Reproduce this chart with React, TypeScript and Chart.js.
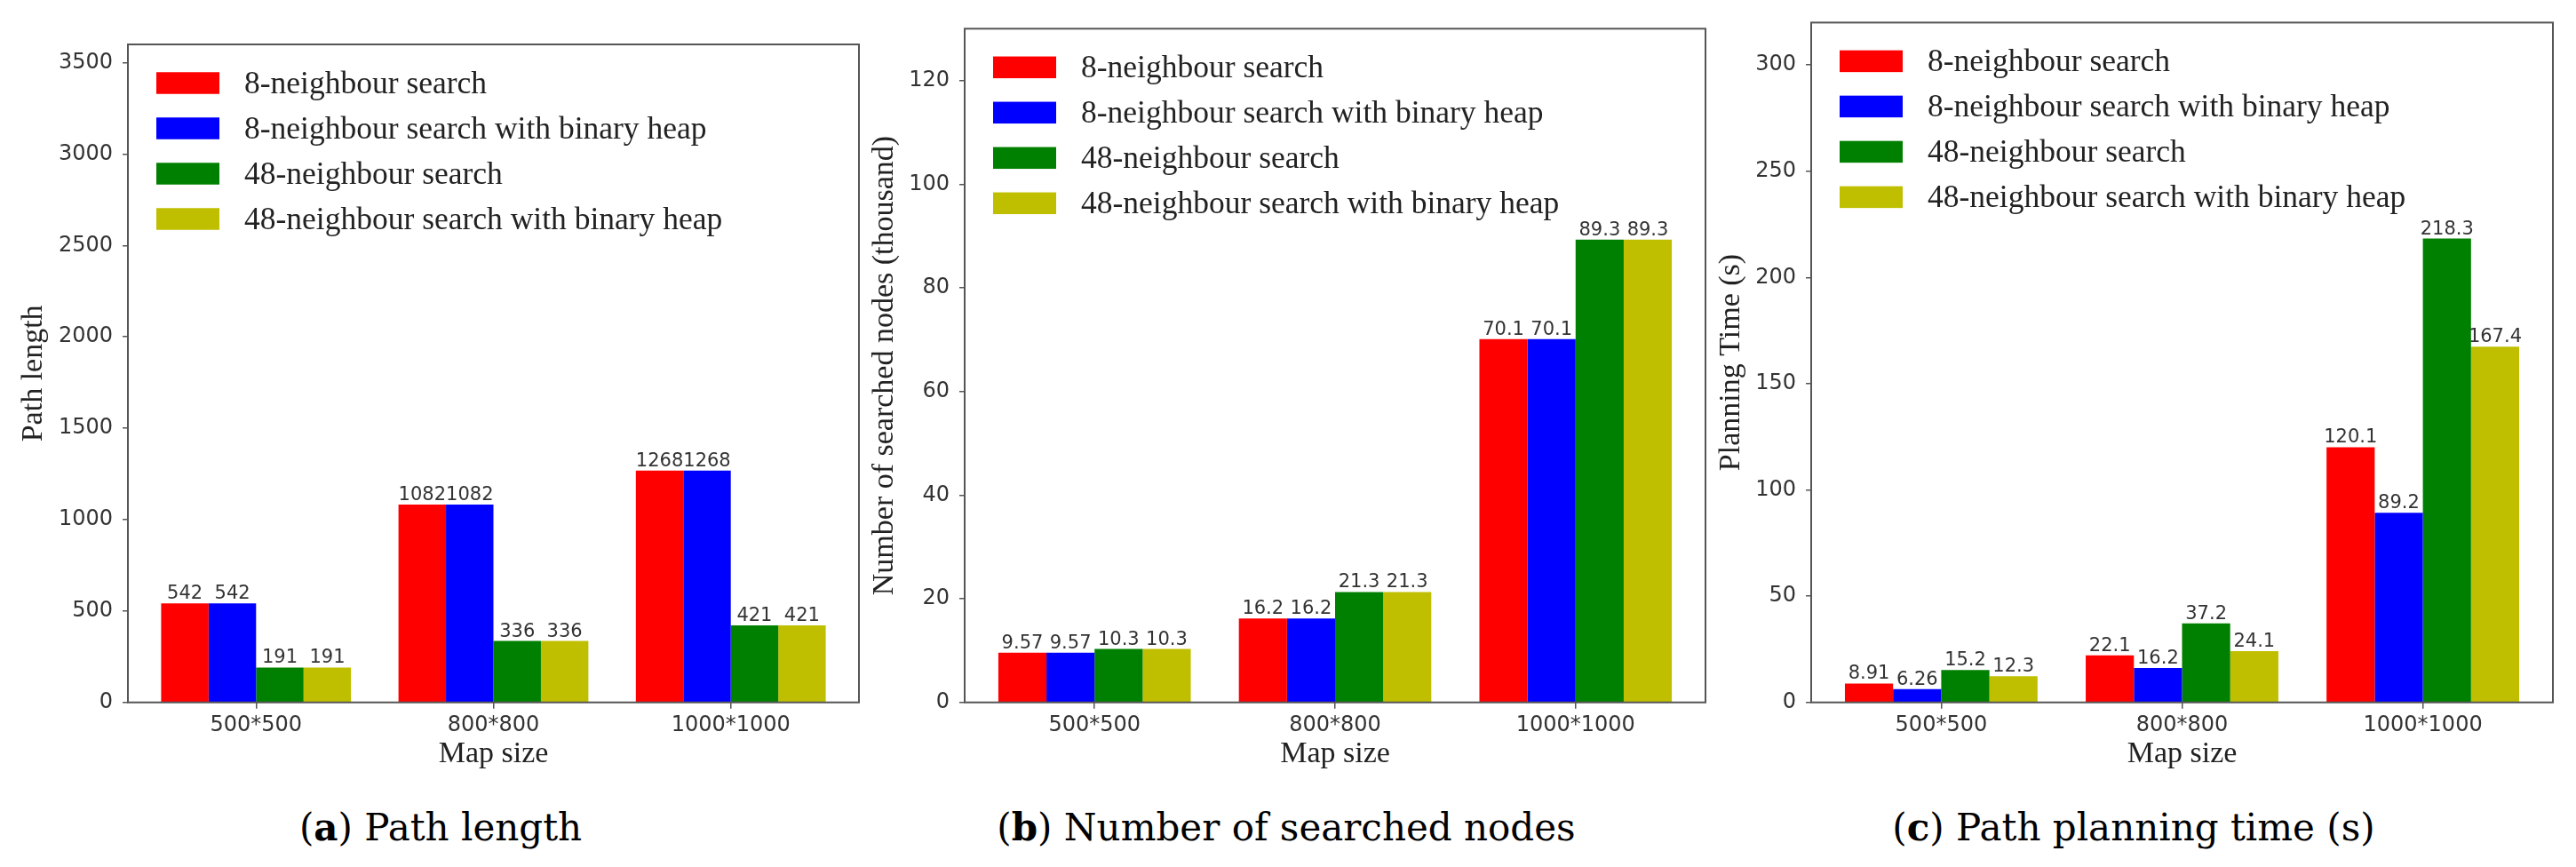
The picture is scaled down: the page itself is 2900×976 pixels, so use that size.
import React, { useEffect, useRef } from 'react';
import { Chart, registerables } from 'chart.js';

Chart.register(...registerables);

// ---------- data ----------
const categories = ['500*500', '800*800', '1000*1000'];
const seriesLabels = [
  '8-neighbour search',
  '8-neighbour search with binary heap',
  '48-neighbour search',
  '48-neighbour search with binary heap',
];
const seriesColors = ['#ff0000', '#0000ff', '#008000', '#bfbf00'];

const pathLength8 = [542, 1082, 1268];
const pathLength8Heap = [542, 1082, 1268];
const pathLength48 = [191, 336, 421];
const pathLength48Heap = [191, 336, 421];

const nodes8 = [9.57, 16.2, 70.1];
const nodes8Heap = [9.57, 16.2, 70.1];
const nodes48 = [10.3, 21.3, 89.3];
const nodes48Heap = [10.3, 21.3, 89.3];

const time8 = [8.91, 22.1, 120.1];
const time8Heap = [6.26, 16.2, 89.2];
const time48 = [15.2, 37.2, 218.3];
const time48Heap = [12.3, 24.1, 167.4];

const yTicksPath = [0, 500, 1000, 1500, 2000, 2500, 3000, 3500];
const yTicksNodes = [0, 20, 40, 60, 80, 100, 120];
const yTicksTime = [0, 50, 100, 150, 200, 250, 300];

const yTitles = ['Path length', 'Number of searched nodes (thousand)', 'Planning Time (s)'];
const xTitle = 'Map size';
const captionLetters = ['a', 'b', 'c'];
const captionTexts = ['Path length', 'Number of searched nodes', 'Path planning time (s)'];

// ---------- layout ----------
const CANVAS_H = 880;
const PLOT_BOTTOM = 790.7;
const SERIF = '"Liberation Serif", "Times New Roman", serif';
const SANS = '"DejaVu Sans", sans-serif';
const FRAME = '#555555';

type Spec = {
  series: number[][];
  yTitle: string;
  yTicks: number[];
  yMax: number;
  canvasLeft: number;
  plotLeft: number;
  plotRight: number;
  plotTop: number;
  yTitleX: number;
  captionX: number;
  letter: string;
  caption: string;
};

const specs: Spec[] = [
  {
    series: [pathLength8, pathLength8Heap, pathLength48, pathLength48Heap],
    yTitle: yTitles[0], yTicks: yTicksPath, yMax: 3600,
    canvasLeft: 0, plotLeft: 144, plotRight: 967, plotTop: 50, yTitleX: 38,
    captionX: 496, letter: captionLetters[0], caption: captionTexts[0],
  },
  {
    series: [nodes8, nodes8Heap, nodes48, nodes48Heap],
    yTitle: yTitles[1], yTicks: yTicksNodes, yMax: 130,
    canvasLeft: 940, plotLeft: 1086, plotRight: 1920, plotTop: 32.3, yTitleX: 996,
    captionX: 1448, letter: captionLetters[1], caption: captionTexts[1],
  },
  {
    series: [time8, time8Heap, time48, time48Heap],
    yTitle: yTitles[2], yTicks: yTicksTime, yMax: 320,
    canvasLeft: 1895, plotLeft: 2039, plotRight: 2874, plotTop: 21.7, yTitleX: 1949,
    captionX: 2402, letter: captionLetters[2], caption: captionTexts[2],
  },
];

// ---------- plugins ----------
const framePlugin = {
  id: 'frame',
  afterDatasetsDraw(chart: any) {
    const { ctx, chartArea: a } = chart;
    ctx.save();
    ctx.strokeStyle = FRAME;
    ctx.lineWidth = 2;
    ctx.strokeRect(a.left, a.top, a.right - a.left, a.bottom - a.top);
    ctx.restore();
  },
};

const valueLabelPlugin = {
  id: 'valueLabels',
  afterDatasetsDraw(chart: any) {
    const { ctx } = chart;
    ctx.save();
    ctx.font = `21px ${SANS}`;
    ctx.fillStyle = '#333333';
    ctx.textAlign = 'center';
    ctx.textBaseline = 'alphabetic';
    chart.data.datasets.forEach((ds: any, di: number) => {
      const meta = chart.getDatasetMeta(di);
      meta.data.forEach((el: any, i: number) => {
        const v = ds.data[i].y;
        ctx.fillText(String(v), el.x, el.y - 5);
      });
    });
    ctx.restore();
  },
};

const legendPlugin = {
  id: 'insideLegend',
  afterDraw(chart: any) {
    const { ctx, chartArea: a } = chart;
    ctx.save();
    ctx.font = `35.5px ${SERIF}`;
    ctx.textAlign = 'left';
    ctx.textBaseline = 'middle';
    chart.data.datasets.forEach((ds: any, i: number) => {
      const cy = a.top + 43.5 + i * 51;
      const bx = a.left + 32;
      ctx.fillStyle = ds.backgroundColor;
      ctx.fillRect(bx, cy - 12.25, 71, 24.5);
      ctx.fillStyle = '#222222';
      ctx.fillText(ds.label, bx + 99, cy + 2);
    });
    ctx.restore();
  },
};

function Panel({ spec }: { spec: Spec }) {
  const ref = useRef<HTMLCanvasElement>(null);
  const width = spec.plotRight + 8 - spec.canvasLeft;
  const yAxisWidth = spec.plotLeft - spec.canvasLeft;

  useEffect(() => {
    const canvas = ref.current!;
    const titleFontSize = 34;
    const titleLine = titleFontSize * 1.2;
    const chart = new Chart(canvas, {
      type: 'bar',
      data: {
        datasets: spec.series.map((vals, si) => ({
          label: seriesLabels[si],
          data: vals.map((v, i) => ({ x: i, y: v })),
          backgroundColor: seriesColors[si],
          borderWidth: 0,
          categoryPercentage: 0.8,
          barPercentage: 1.0,
        })),
      },
      options: {
        responsive: false,
        maintainAspectRatio: false,
        animation: false,
        devicePixelRatio: 1,
        layout: { padding: { top: spec.plotTop, right: 8, bottom: 0, left: 0 } },
        plugins: { legend: { display: false }, tooltip: { enabled: false } },
        scales: {
          x: {
            type: 'linear',
            min: -0.54,
            max: 2.54,
            offset: false,
            grid: { display: true, drawOnChartArea: false, offset: false, tickLength: 7, color: FRAME, lineWidth: 1.5 },
            border: { display: false },
            afterBuildTicks: (scale: any) => {
              scale.ticks = categories.map((_, i) => ({ value: i }));
            },
            afterFit: (scale: any) => {
              scale.height = CANVAS_H - PLOT_BOTTOM;
            },
            ticks: {
              autoSkip: false,
              maxRotation: 0,
              padding: 5,
              color: '#333333',
              font: { family: SANS, size: 24 },
              callback: (v: any) => categories[v] ?? '',
            },
            title: {
              display: true,
              text: xTitle,
              color: '#222222',
              font: { family: SERIF, size: titleFontSize, lineHeight: 1.2 },
              padding: { top: 0, bottom: CANVAS_H - 849 - titleLine / 2 },
            },
          },
          y: {
            type: 'linear',
            min: 0,
            max: spec.yMax,
            grid: { display: true, drawOnChartArea: false, tickLength: 6, color: FRAME, lineWidth: 1.5 },
            border: { display: false },
            afterBuildTicks: (scale: any) => {
              scale.ticks = spec.yTicks.map((v) => ({ value: v }));
            },
            afterFit: (scale: any) => {
              scale.width = yAxisWidth;
            },
            ticks: {
              autoSkip: false,
              padding: 11,
              color: '#333333',
              font: { family: SANS, size: 24 },
              callback: (v: any) => String(v),
            },
            title: {
              display: true,
              text: spec.yTitle,
              color: '#222222',
              font: { family: SERIF, size: titleFontSize, lineHeight: 1.2 },
              padding: { top: spec.yTitleX - spec.canvasLeft - titleLine / 2, bottom: 0 },
            },
          },
        },
      } as any,
      plugins: [framePlugin, valueLabelPlugin, legendPlugin],
    });
    return () => chart.destroy();
  }, [spec, width, yAxisWidth]);

  return (
    <canvas
      ref={ref}
      width={width}
      height={CANVAS_H}
      style={{ position: 'absolute', left: spec.canvasLeft, top: 0, width, height: CANVAS_H }}
    />
  );
}

function Caption({ spec }: { spec: Spec }) {
  return (
    <div
      style={{
        position: 'absolute',
        left: spec.captionX,
        top: 911,
        transform: 'translateX(-50%)',
        whiteSpace: 'nowrap',
        fontFamily: '"DejaVu Serif", serif',
        fontSize: 42,
        lineHeight: '42px',
        color: '#000',
      }}
    >
      (<b>{spec.letter}</b>) {spec.caption}
    </div>
  );
}

export default function App() {
  return (
    <div
      style={{
        position: 'absolute',
        left: 0,
        top: 0,
        width: 2900,
        height: 976,
        background: '#ffffff',
        overflow: 'hidden',
      }}
    >
      {specs.map((s, i) => (
        <Panel key={i} spec={s} />
      ))}
      {specs.map((s, i) => (
        <Caption key={'c' + i} spec={s} />
      ))}
    </div>
  );
}
